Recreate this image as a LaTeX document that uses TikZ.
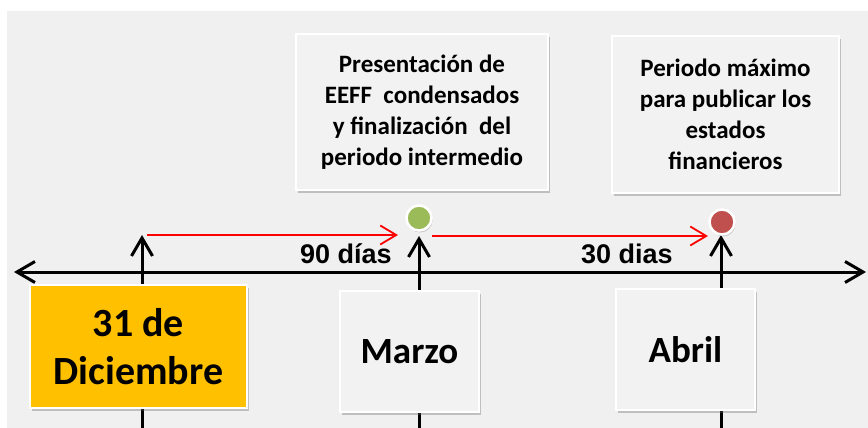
\documentclass[tikz,border=0pt]{standalone}
\usepackage{fontspec}
\setmainfont{Carlito}
\newfontfamily\arialish{Liberation Sans}
\usetikzlibrary{arrows.meta,shadows}
\definecolor{bggray}{HTML}{F0F0F0}
\definecolor{boxgray}{HTML}{F2F2F2}
\definecolor{gold}{HTML}{FFC000}
\definecolor{okgreen}{HTML}{9BBB59}
\definecolor{dotred}{HTML}{C0504D}
\begin{document}
\begin{tikzpicture}[x=1pt,y=-1pt,
  axisline/.style={line width=3pt,black,-{Straight Barb[length=18pt,width=21pt,line width=3pt]}},
  spanarrow/.style={line width=1.8pt,red,-{Straight Barb[length=16pt,width=19pt,line width=1.8pt]}},
  card/.style={draw=white,line width=1.5pt,fill=boxgray,inner sep=0pt,align=center,
    drop shadow={shadow xshift=2pt,shadow yshift=-3pt,opacity=0.35,fill=black!60}},
  datebox/.style={card,font=\fontsize{37}{48}\selectfont\bfseries},
  notebox/.style={card,font=\fontsize{25}{31}\selectfont\bfseries},
  dot/.style={circle,draw=white,line width=2.5pt,minimum size=25pt,inner sep=0pt,
    drop shadow={shadow xshift=1pt,shadow yshift=-2pt,opacity=0.3,fill=black!60}},
  spanlabel/.style={font=\arialish\fontsize{27}{32}\selectfont\bfseries,inner sep=0pt}]
\useasboundingbox (0,0) rectangle (868,428);
\fill[white] (0,0) rectangle (868,428);
\fill[bggray] (7,11) rectangle (868,428);
% coordinates
\coordinate (axL) at (14,272);
\coordinate (axR) at (866,272);
\coordinate (b1) at (142,428);
\coordinate (t1) at (142,235);
\coordinate (b2) at (419,428);
\coordinate (t2) at (419,236);
\coordinate (b3) at (721,428);
\coordinate (t3) at (721,235);
\coordinate (r1s) at (147,235);
\coordinate (r1e) at (398,235);
\coordinate (r2s) at (432,236);
\coordinate (r2e) at (708,236);
% axis
\draw[axisline,{Straight Barb[length=18pt,width=21pt,line width=3pt]}-{Straight Barb[length=18pt,width=21pt,line width=3pt]}] (axL) -- (axR);
\draw[axisline] (b1) -- (t1);
\draw[axisline] (b2) -- (t2);
\draw[axisline] (b3) -- (t3);
% boxes
\node[datebox,fill=gold,minimum width=217pt,minimum height=123pt,font=\fontsize{40}{48}\selectfont\bfseries] (dic) at (138.5,346.5) {31 de\\Diciembre};
\node[datebox,minimum width=139pt,minimum height=121pt] (mar) at (409.5,351.5) {Marzo};
\node[datebox,minimum width=139pt,minimum height=121pt] (abr) at (685.5,349.5) {Abril};
\node[notebox,minimum width=252pt,minimum height=156pt] (eeff) at (422,112) {Presentación de\\EEFF\ \ condensados\\y finalización\ \ del\\periodo intermedio};
\node[notebox,minimum width=227pt,minimum height=157pt] (max) at (725.5,114.5) {Periodo máximo\\para publicar los\\estados\\financieros};
% dots
\node[dot,fill=okgreen] (g) at (419,218) {};
\node[dot,fill=dotred] (r) at (722,222) {};
% red span arrows
\draw[spanarrow] (r1s) -- (r1e);
\draw[spanarrow] (r2s) -- (r2e);
\node[spanlabel] (l90) at (346,254) {90 días};
\node[spanlabel] (l30) at (627,254) {30 dias};
\end{tikzpicture}
\end{document}
